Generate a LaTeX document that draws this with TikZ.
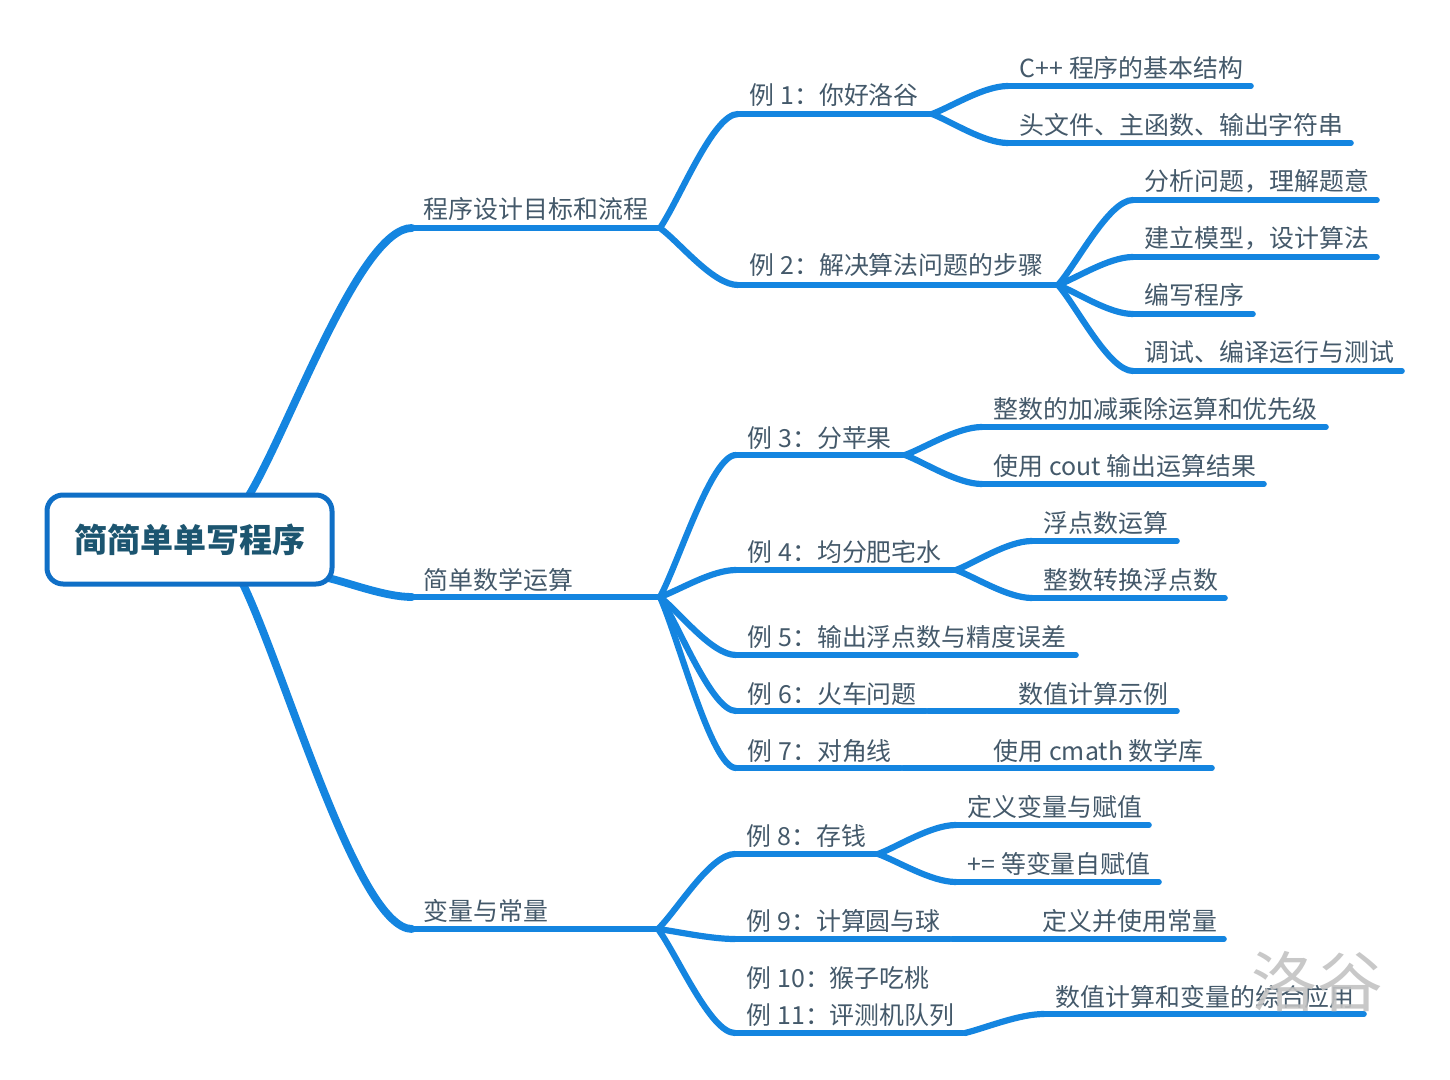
\documentclass[tikz,border=0pt]{standalone}
\usepackage{fontspec}
\setmainfont{Noto Sans CJK SC}
\usetikzlibrary{calc}
\pgfdeclarelayer{back}
\pgfsetlayers{back,main}
\definecolor{branch}{HTML}{1485E0}
\definecolor{rootline}{HTML}{0F6FC6}
\definecolor{roottext}{HTML}{1C5570}
\definecolor{labeltext}{HTML}{44596A}
\tikzset{
  label text/.style={anchor=base west,inner sep=0pt,text=labeltext,font=\fontsize{12.45pt}{14pt}\selectfont},
  root box/.style={draw=rootline,line width=2.5pt,rounded corners=8pt,fill=white,minimum width=142.5pt,minimum height=44.5pt,inner sep=0pt,text=roottext,font=\fontsize{16.5pt}{18pt}\selectfont\bfseries},
  under/.style={draw=branch,line width=2.8pt,line cap=round,shorten >=1pt},
  link/.style={draw=branch,line width=3.1pt,line cap=round},
  rootlink/.style={draw=branch,line width=3.9pt,line cap=round},
  mark text/.style={inner sep=0pt,text=black!24,font=\fontsize{32.8pt}{34pt}\selectfont}
}
% name, text x, text centre y, line x1, line x2, line y, text
\newcommand{\topicnode}[7]{%
  \node[label text] (#1) at (#2-0.5,#3+10) {#7};
  \coordinate (#1-s) at (#4,#6);
  \coordinate (#1-e) at (#5,#6);
  \draw[under] (#1-s) -- (#1-e);
}
\newcommand{\conn}[3][link]{%
  \coordinate (cm) at ($(#2)!.68!(#3)$);
  \begin{pgfonlayer}{back}
  \draw[#1] (#2) .. controls ($(#2)!.25!(#3)$) and (cm |- #3) .. (#3);
  \end{pgfonlayer}
}
\begin{document}
\begin{tikzpicture}[x=0.5pt,y=-0.5pt]
\useasboundingbox (0,0) rectangle (1450,1080);
\node[root box] (root) at (189.5,539.5) {\raisebox{-1.5pt}{简简单单写程序}};
\coordinate (r1) at (248,497);
\coordinate (r2) at (328,578);
\coordinate (r3) at (242,582);

\topicnode{a}{424}{209}{412}{660}{228}{程序设计目标和流程}
\topicnode{b}{424}{579}{412}{660}{597}{简单数学运算}
\topicnode{c}{424}{910}{412}{658}{929}{变量与常量}

\topicnode{a1}{750}{95}{738}{932}{114}{例 1：你好洛谷}
\topicnode{a2}{750}{265}{738}{1058}{285}{例 2：解决算法问题的步骤}
\topicnode{a11}{1020}{68}{1008}{1253}{86}{C++ 程序的基本结构}
\topicnode{a12}{1020}{125}{1008}{1353}{143}{头文件、主函数、输出字符串}
\topicnode{a21}{1145}{181}{1133}{1379}{200}{分析问题，理解题意}
\topicnode{a22}{1145}{238}{1133}{1379}{257}{建立模型，设计算法}
\topicnode{a23}{1145}{295}{1133}{1255}{314}{编写程序}
\topicnode{a24}{1145}{352}{1133}{1404}{371}{调试、编译运行与测试}

\topicnode{b1}{748}{437}{736}{905}{455}{例 3：分苹果}
\topicnode{b11}{994}{408}{982}{1328}{427}{整数的加减乘除运算和优先级}
\topicnode{b12}{994}{465}{982}{1266}{484}{使用 cout 输出运算结果}
\topicnode{b2}{748}{551}{736}{956}{570}{例 4：均分肥宅水}
\topicnode{b21}{1044}{522}{1032}{1179}{541}{浮点数运算}
\topicnode{b22}{1044}{579}{1032}{1227}{598}{整数转换浮点数}
\topicnode{b3}{748}{636}{736}{1078}{655}{例 5：输出浮点数与精度误差}
\topicnode{b4}{748}{693}{736}{928}{711}{例 6：火车问题}
\topicnode{b41}{1019}{693}{928}{1179}{711}{数值计算示例}
\topicnode{b5}{748}{750}{736}{903}{768}{例 7：对角线}
\topicnode{b51}{994}{750}{903}{1214}{768}{使用 cmath 数学库}

\topicnode{c1}{747}{835}{735}{878}{854}{例 8：存钱}
\topicnode{c11}{968}{806}{956}{1151}{825}{定义变量与赋值}
\topicnode{c12}{968}{863}{956}{1161}{882}{+= 等变量自赋值}
\topicnode{c2}{747}{920}{735}{952}{939}{例 9：计算圆与球}
\topicnode{c21}{1043}{920}{952}{1226}{939}{定义并使用常量}
\node[label text] (c3a) at (746.5,987) {例 10：猴子吃桃};
\topicnode{c3}{747}{1014}{735}{965}{1033}{例 11：评测机队列}
\topicnode{c31}{1056}{996}{1044}{1366}{1014}{数值计算和变量的综合应用}

\conn[rootlink]{r1}{a-s}
\conn[rootlink]{r2}{b-s}
\conn[rootlink]{r3}{c-s}
\conn{a-e}{a1-s}\conn{a-e}{a2-s}
\conn{a1-e}{a11-s}\conn{a1-e}{a12-s}
\conn{a2-e}{a21-s}\conn{a2-e}{a22-s}\conn{a2-e}{a23-s}\conn{a2-e}{a24-s}
\conn{b-e}{b1-s}\conn{b-e}{b2-s}\conn{b-e}{b3-s}\conn{b-e}{b4-s}\conn{b-e}{b5-s}
\conn{b1-e}{b11-s}\conn{b1-e}{b12-s}
\conn{b2-e}{b21-s}\conn{b2-e}{b22-s}
\conn{c-e}{c1-s}\conn{c-e}{c2-s}\conn{c-e}{c3-s}
\conn{c1-e}{c11-s}\conn{c1-e}{c12-s}
\conn{c3-e}{c31-s}

\node[mark text,opacity=.9] (mark) at (1317,982) {洛谷};
\end{tikzpicture}
\end{document}
